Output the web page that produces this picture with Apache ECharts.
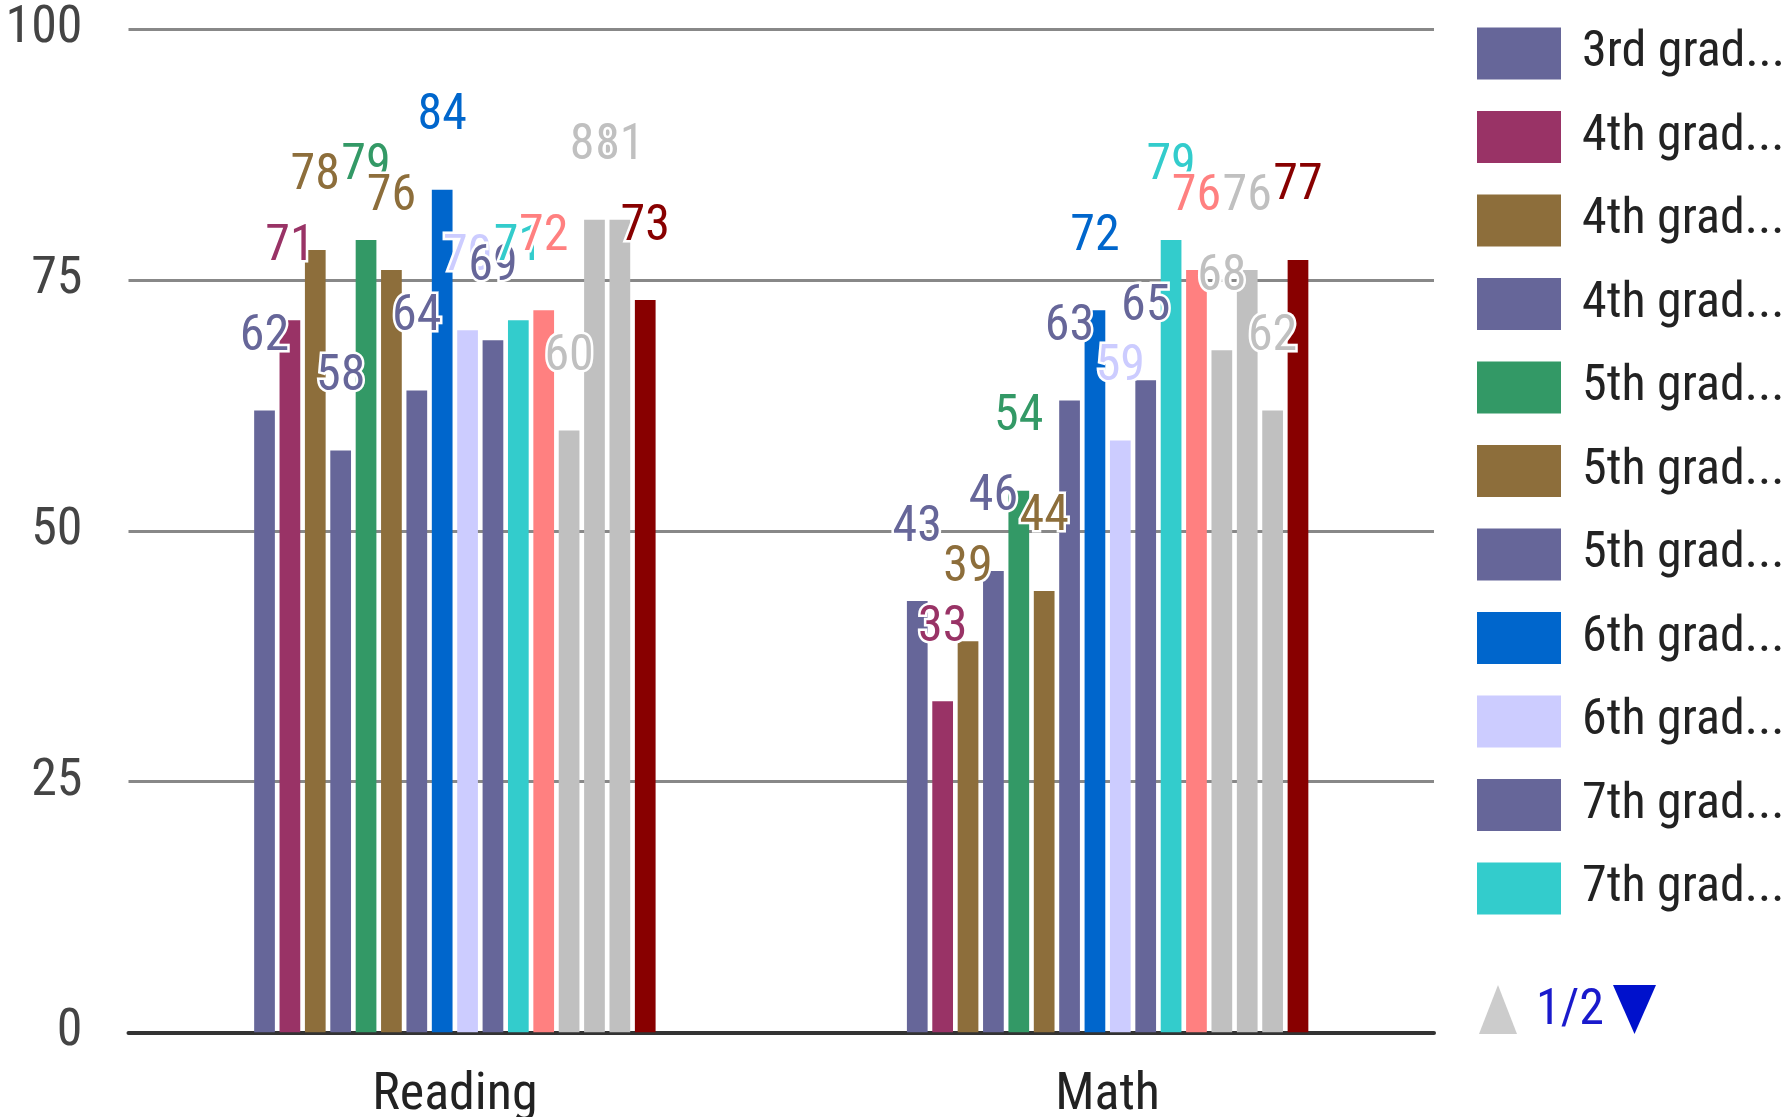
<!DOCTYPE html>
<html>
<head>
<meta charset="utf-8">
<title>Reading and Math scores by grade</title>
<script src="https://cdn.jsdelivr.net/npm/echarts@6/dist/echarts.min.js"></script>
<style>
  html, body { margin: 0; padding: 0; background: #fff; }
  #chart { width: 1791px; height: 1117px; }
</style>
</head>
<body>
<div id="chart"></div>
<script>
// Subjects along the x axis
const categories = ['Reading', 'Math'];

// One series per grade group (legend shows truncated names)
const seriesNames = [
  '3rd grade', '4th grade A', '4th grade B', '4th grade C',
  '5th grade A', '5th grade B', '5th grade C', '6th grade A',
  '6th grade B', '7th grade A', '7th grade B', '8th grade A',
  '8th grade B', '8th grade C', '8th grade D', '8th grade E'
];

// Percent scores per series
const readingScores = [62, 71, 78, 58, 79, 76, 64, 84, 70, 69, 71, 72, 60, 81, 81, 73];
const mathScores    = [43, 33, 39, 46, 54, 44, 63, 72, 59, 65, 79, 76, 68, 76, 62, 77];

const seriesColors = [
  '#666699', '#993366', '#8d6e3b', '#666699',
  '#339966', '#8d6e3b', '#666699', '#0066cc',
  '#ccccff', '#666699', '#33cccc', '#ff8080',
  '#c0c0c0', '#c0c0c0', '#c0c0c0', '#880000'
];

// Value axis ticks
const yMin = 0, yMax = 100, yStep = 25;

// Legend shows the first page of entries
const legendPageSize = 11;
const pageLabel = '1/2';

// Pick a narrow sans face if one is installed, otherwise fall back to a regular one.
function fontInstalled(family) {
  const ctx = document.createElement('canvas').getContext('2d');
  const sample = 'Reading 3rd grad 0123456789';
  for (const base of ['monospace', 'serif']) {
    ctx.font = '52px ' + base;
    const w0 = ctx.measureText(sample).width;
    ctx.font = '52px "' + family + '", ' + base;
    if (Math.abs(ctx.measureText(sample).width - w0) > 0.5) return true;
  }
  return false;
}
function stretchWorks(family) {
  const ctx = document.createElement('canvas').getContext('2d');
  const sample = 'Reading 3rd grad 0123456789';
  ctx.font = '52px "' + family + '"';
  const w0 = ctx.measureText(sample).width;
  ctx.font = 'condensed 52px "' + family + '"';
  return ctx.measureText(sample).width < w0 * 0.92;
}

let FONT = '"Liberation Sans", Arial, sans-serif';
let WEIGHT = 'normal';
let SIZE = 46;
const narrowFamilies = ['Liberation Sans Narrow', 'Arial Narrow', 'Noto Sans Condensed',
                        'Nimbus Sans Narrow', 'Roboto Condensed', 'Open Sans Condensed'];
const found = narrowFamilies.find(fontInstalled);
if (found) {
  FONT = '"' + found + '", "Liberation Sans", Arial, sans-serif';
  SIZE = 50;
} else if (stretchWorks('Noto Sans')) {
  FONT = '"Noto Sans", sans-serif';
  WEIGHT = 'condensed';
  SIZE = 49;
}

const chart = echarts.init(document.getElementById('chart'), null, { renderer: 'canvas' });

const series = seriesNames.map((name, i) => ({
  name: name,
  type: 'bar',
  data: [readingScores[i], mathScores[i]],
  itemStyle: { color: seriesColors[i] },
  barGap: '22.5%',
  barCategoryGap: '38.5%',
  label: {
    show: true,
    position: 'top',
    distance: 48,
    color: seriesColors[i],
    fontFamily: FONT,
    fontWeight: WEIGHT,
    fontSize: SIZE,
    textBorderColor: '#fff',
    textBorderWidth: 5
  }
}));

chart.setOption({
  animation: false,
  backgroundColor: '#fff',
  textStyle: { fontFamily: FONT },
  grid: {
    left: 128.5, right: 357, top: 29.3, bottom: 84.7,
    containLabel: false,
    outerBoundsMode: 'none'
  },
  xAxis: {
    type: 'category',
    data: categories,
    axisTick: { show: false },
    axisLine: { show: true, lineStyle: { color: '#333', width: 4 } },
    axisLabel: { color: '#222', fontFamily: FONT, fontWeight: WEIGHT, fontSize: SIZE + 2, margin: 38 }
  },
  yAxis: {
    type: 'value',
    min: yMin,
    max: yMax,
    interval: yStep,
    axisLine: { show: false },
    axisTick: { show: false },
    splitLine: { lineStyle: { color: '#888', width: 3 } },
    axisLabel: {
      color: '#444', fontFamily: FONT, fontWeight: WEIGHT, fontSize: SIZE + 2,
      margin: 46, padding: [15, 0, 0, 0]
    }
  },
  legend: {
    type: 'plain',
    orient: 'vertical',
    left: 1477,
    top: 27.5,
    padding: 0,
    icon: 'rect',
    itemWidth: 84,
    itemHeight: 52,
    itemGap: 31.5,
    data: seriesNames.slice(0, legendPageSize),
    selectedMode: false,
    formatter: name => name.slice(0, 8) + '...',
    textStyle: {
      color: '#222', fontFamily: FONT, fontWeight: WEIGHT, fontSize: SIZE,
      lineHeight: 52, padding: [0, 0, 0, 16]
    }
  },
  graphic: [
    {
      type: 'polygon',
      shape: { points: [[1479, 1034], [1517, 1034], [1498, 985]] },
      style: { fill: '#cccccc' }
    },
    {
      type: 'text',
      left: 1536,
      top: 986,
      style: { text: pageLabel, fill: '#1a1acc', font: WEIGHT + ' ' + SIZE + 'px ' + FONT }
    },
    {
      type: 'polygon',
      shape: { points: [[1613, 985], [1656, 985], [1634.5, 1034]] },
      style: { fill: '#0011cc' }
    }
  ],
  series: series
});
</script>
</body>
</html>
